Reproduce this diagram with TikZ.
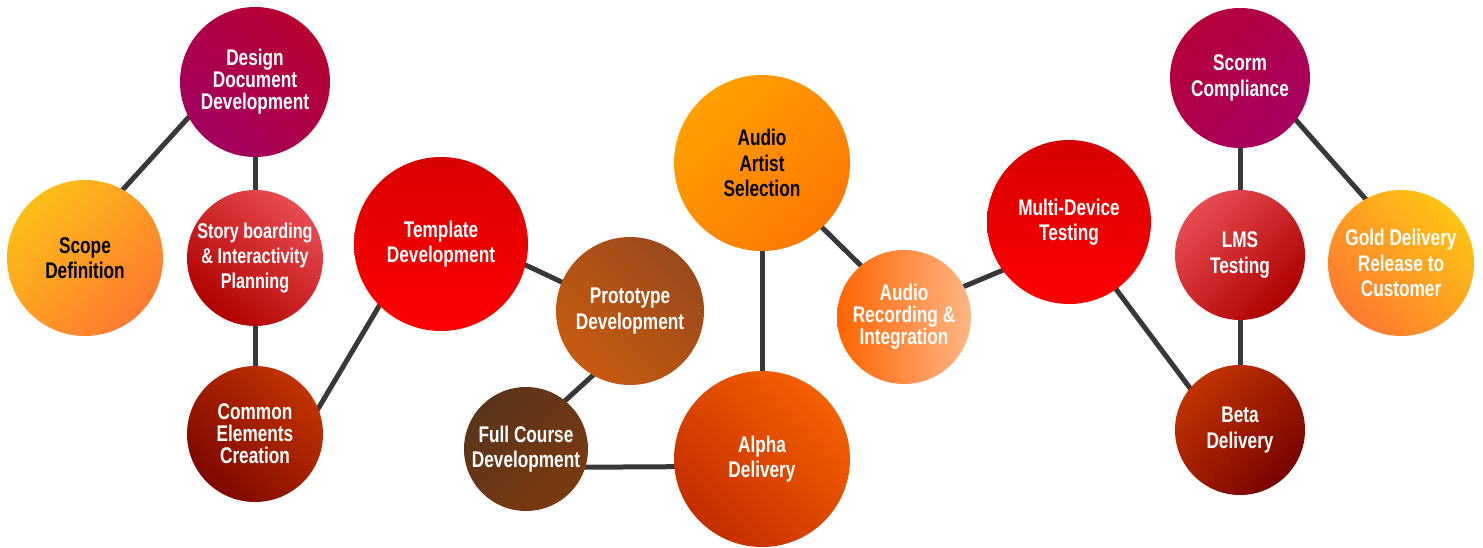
\documentclass[tikz,border=0pt]{standalone}
\usepackage{fontspec}
\newfontfamily\bubblefont[FakeStretch=0.76]{Liberation Sans}
\usetikzlibrary{backgrounds}

\definecolor{linkgray}{HTML}{38383A}

\tikzset {
  % phase of the course, #1 is the radius in px
  bubble/.style = {
    circle,
    inner sep = 0,
    minimum size = #1*1.5pt,
    align = center,
    text = white,
    font = \bubblefont\bfseries\fontsize{17}{19}\selectfont
  },
  % black label on the light bubbles
  dark text/.style = {
    text = black
  },
  % three lines set a bit closer
  tight/.style = {
    font = \bubblefont\bfseries\fontsize{17}{16.5}\selectfont
  },
  % long lines, a bit smaller
  long lines/.style = {
    font = \bubblefont\bfseries\fontsize{16}{19}\selectfont
  },
  % connector between two phases
  link/.style = {
    draw = linkgray,
    line width = 3.75pt,
    shorten < = -3pt,
    shorten > = -3pt
  }
}

\begin{document}
\begin{tikzpicture}[x=0.75pt, y=-0.75pt]
    \useasboundingbox (0,0) rectangle (1483,547);

    \node[bubble=78, dark text, top color={rgb,255:red,253;green,190;blue,23},
      bottom color={rgb,255:red,255;green,122;blue,48}, shading angle=45]
      (scope) at (85,258) {Scope\\Definition};
    \node[bubble=75, tight, top color={rgb,255:red,184;green,0;blue,48},
      bottom color={rgb,255:red,162;green,0;blue,96}, shading angle=-45]
      (design) at (255,82) {Design\\Document\\Development};
    \node[bubble=68, long lines, top color={rgb,255:red,232;green,76;blue,80},
      bottom color={rgb,255:red,178;green,0;blue,0}, shading angle=-40]
      (story) at (255,258) {Story boarding\\\& Interactivity\\Planning};
    \node[bubble=68, tight, top color={rgb,255:red,194;green,50;blue,0},
      bottom color={rgb,255:red,126;green,8;blue,0}, shading angle=-45]
      (common) at (255,434) {Common\\Elements\\Creation};
    \node[bubble=87, top color={rgb,255:red,217;green,0;blue,0},
      bottom color={rgb,255:red,255;green,0;blue,0}]
      (template) at (441,244) {Template\\Development};
    \node[bubble=74, top color={rgb,255:red,154;green,74;blue,28},
      bottom color={rgb,255:red,200;green,90;blue,16}, shading angle=-45]
      (prototype) at (630,311) {Prototype\\Development};
    \node[bubble=62, top color={rgb,255:red,90;green,52;blue,26},
      bottom color={rgb,255:red,122;green,58;blue,16}, shading angle=45]
      (full-course) at (526,449) {Full Course\\Development};
    \node[bubble=88, dark text, top color={rgb,255:red,255;green,160;blue,0},
      bottom color={rgb,255:red,255;green,120;blue,0}, shading angle=45]
      (artist) at (762,163) {Audio\\Artist\\Selection};
    \node[bubble=88, top color={rgb,255:red,245;green,96;blue,0},
      bottom color={rgb,255:red,196;green,46;blue,0}, shading angle=-45]
      (alpha) at (762,459) {Alpha\\Delivery};
    \node[bubble=67, tight, left color={rgb,255:red,255;green,100;blue,0},
      right color={rgb,255:red,255;green,182;blue,134}]
      (recording) at (904,317) {Audio\\Recording \&\\Integration};
    \node[bubble=82, top color={rgb,255:red,215;green,0;blue,0},
      bottom color={rgb,255:red,255;green,0;blue,0}]
      (multi-device) at (1069,222) {Multi-Device\\Testing};
    \node[bubble=70, top color={rgb,255:red,182;green,0;blue,58},
      bottom color={rgb,255:red,166;green,0;blue,96}, shading angle=45]
      (scorm) at (1240,78) {Scorm\\Compliance};
    \node[bubble=65, top color={rgb,255:red,232;green,76;blue,82},
      bottom color={rgb,255:red,174;green,0;blue,0}, shading angle=45]
      (lms) at (1240,255) {LMS\\Testing};
    \node[bubble=65, top color={rgb,255:red,194;green,50;blue,0},
      bottom color={rgb,255:red,120;green,4;blue,0}, shading angle=45]
      (beta) at (1240,430) {Beta\\Delivery};
    \node[bubble=73, top color={rgb,255:red,255;green,196;blue,20},
      bottom color={rgb,255:red,255;green,122;blue,48}, shading angle=-45]
      (gold) at (1401,263) {Gold Delivery\\Release to\\Customer};

    \begin{scope}[on background layer]
      \draw[link] (scope.61) -- (design.208);
      \draw[link] (design.south) -- (story.north);
      \draw[link] (story.south) -- (common.north);
      \draw[link] (common.22) -- (template.225);
      \draw[link] (template.-14) -- (prototype.157);
      \draw[link] (prototype.240) -- (full-course.51);
      \draw[link] (full-course.-17) -- (alpha.185);
      \draw[link] (alpha.north) -- (artist.south);
      \draw[link] (artist.-47) -- (recording.130);
      \draw[link] (recording.27) -- (multi-device.216);
      \draw[link] (multi-device.-55) -- (beta.140);
      \draw[link] (beta.north) -- (lms.south);
      \draw[link] (lms.north) -- (scorm.south);
      \draw[link] (scorm.-37) -- (gold.119);
    \end{scope}
  \end{tikzpicture}
\end{document}
